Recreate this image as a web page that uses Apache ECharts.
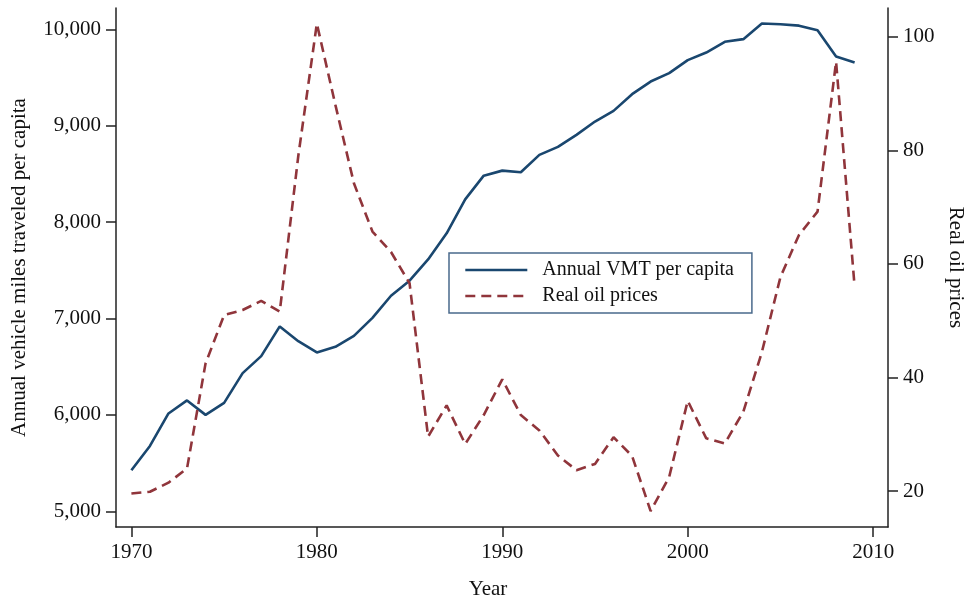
<!DOCTYPE html>
<html>
<head>
<meta charset="utf-8">
<title>VMT per capita and real oil prices</title>
<script src="https://cdn.jsdelivr.net/npm/echarts@6/dist/echarts.min.js"></script>
<style>
  html, body { margin: 0; padding: 0; background: #fff; }
  #chart { width: 968px; height: 599px; }
</style>
</head>
<body>
<div id="chart"></div>
<script>
// data
var years = [1970, 1971, 1972, 1973, 1974, 1975, 1976, 1977, 1978, 1979,
             1980, 1981, 1982, 1983, 1984, 1985, 1986, 1987, 1988, 1989,
             1990, 1991, 1992, 1993, 1994, 1995, 1996, 1997, 1998, 1999,
             2000, 2001, 2002, 2003, 2004, 2005, 2006, 2007, 2008, 2009];
var vmtPerCapita = [5426, 5678, 6015, 6150, 6000, 6125, 6433, 6610, 6918, 6765,
                    6648, 6706, 6820, 7007, 7236, 7392, 7613, 7884, 8236, 8482,
                    8534, 8517, 8697, 8780, 8905, 9043, 9154, 9327, 9458, 9545,
                    9680, 9759, 9870, 9898, 10060, 10053, 10038, 9990, 9717, 9655];
var oilPrice = [19.6, 19.9, 21.5, 24.0, 42.5, 51.0, 51.9, 53.5, 51.6, 79.0,
                102.3, 88.0, 74.2, 65.7, 62.1, 56.6, 29.6, 35.1, 28.3, 33.4,
                39.7, 33.4, 30.7, 26.3, 23.7, 24.8, 29.5, 26.2, 16.5, 22.5,
                35.9, 29.3, 28.4, 34.0, 44.5, 57.7, 65.1, 69.2, 95.6, 56.0];
var yearTicks = [1970, 1980, 1990, 2000, 2010];
var vmtTicks = [5000, 6000, 7000, 8000, 9000, 10000];
var oilTicks = [20, 40, 60, 80, 100];

var font = 'Liberation Serif';
var navy = '#1a476f';
var maroon = '#90353b';

function pairs(xs, ys) {
  return xs.map(function (x, i) { return [x, ys[i]]; });
}

var chart = echarts.init(document.getElementById('chart'));

var axisLine = { show: true, lineStyle: { color: '#222', width: 1.5 } };
var axisTickStyle = { lineStyle: { color: '#222', width: 1.5 } };
var labelStyle = { color: '#111', fontFamily: font, fontSize: 21 };
var nameStyle = { color: '#111', fontFamily: font, fontSize: 21 };

var option = {
  animation: false,
  backgroundColor: '#fff',
  grid: { left: 116, right: 80, top: 8, bottom: 72, outerBoundsMode: 'none' },
  legend: {
    orient: 'vertical',
    left: 449,
    top: 253,
    padding: [7, 18, 7, 15],
    itemWidth: 62,
    itemHeight: 14,
    itemGap: 6,
    borderColor: '#4a6a8c',
    borderWidth: 1.5,
    backgroundColor: '#fff',
    itemStyle: { opacity: 0 },
    lineStyle: { width: 2.6 },
    textStyle: { color: '#111', fontFamily: font, fontSize: 20, padding: [0, 0, 0, 10] },
    data: ['Annual VMT per capita', 'Real oil prices']
  },
  xAxis: {
    type: 'value',
    min: 1969.17,
    max: 2010.8,
    name: 'Year',
    nameLocation: 'middle',
    nameGap: 52,
    nameTextStyle: Object.assign({ padding: [0, 28, 0, 0] }, nameStyle),
    axisLine: axisLine,
    axisTick: Object.assign({ show: true, length: 10, customValues: yearTicks }, axisTickStyle),
    axisLabel: Object.assign({
      margin: 15,
      customValues: yearTicks,
      formatter: function (v) { return String(v); }
    }, labelStyle),
    splitLine: { show: false }
  },
  yAxis: [
    {
      type: 'value',
      position: 'left',
      min: 4837,
      max: 10221,
      name: 'Annual vehicle miles traveled per capita',
      nameLocation: 'middle',
      nameRotate: 90,
      nameGap: 86,
      nameTextStyle: nameStyle,
      axisLine: axisLine,
      axisTick: Object.assign({ show: true, length: 10, customValues: vmtTicks }, axisTickStyle),
      axisLabel: Object.assign({
        margin: 15,
        customValues: vmtTicks,
        formatter: function (v) { return v.toLocaleString('en-US'); }
      }, labelStyle),
      splitLine: { show: false }
    },
    {
      type: 'value',
      position: 'right',
      min: 13.7,
      max: 105.05,
      name: 'Real oil prices',
      nameLocation: 'middle',
      nameRotate: -90,
      nameGap: 54,
      nameTextStyle: nameStyle,
      axisLine: axisLine,
      axisTick: Object.assign({ show: true, length: 10, customValues: oilTicks }, axisTickStyle),
      axisLabel: Object.assign({ margin: 15, customValues: oilTicks }, labelStyle),
      splitLine: { show: false }
    }
  ],
  series: [
    {
      name: 'Annual VMT per capita',
      type: 'line',
      yAxisIndex: 0,
      symbol: 'none',
      symbolSize: 0,
      showSymbol: false,
      color: navy,
      lineStyle: { color: navy, width: 2.6 },
      data: pairs(years, vmtPerCapita)
    },
    {
      name: 'Real oil prices',
      type: 'line',
      yAxisIndex: 1,
      symbol: 'none',
      symbolSize: 0,
      showSymbol: false,
      color: maroon,
      lineStyle: { color: maroon, width: 2.6, type: [10, 6] },
      data: pairs(years, oilPrice)
    }
  ]
};

chart.setOption(option);
</script>
</body>
</html>
